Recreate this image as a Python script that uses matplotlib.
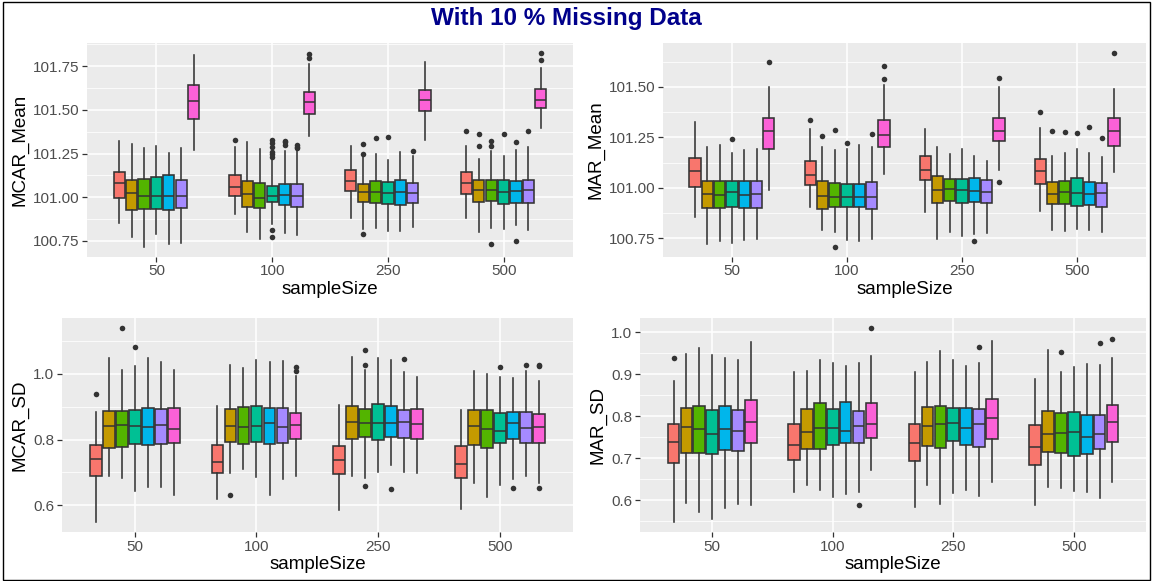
import numpy as np
import matplotlib
matplotlib.use("Agg")
import matplotlib.pyplot as plt
from matplotlib.ticker import MultipleLocator, FormatStrFormatter
from matplotlib.patches import Rectangle

plt.rcParams['font.family'] = ['Liberation Sans', 'DejaVu Sans']

sampleSizes = ['50', '100', '250', '500']
methodColors = ['#F8766D', '#C49A00', '#53B400', '#00C094', '#00B6EB', '#A58AFF', '#FB61D7']

# box stats per sample size and method: (whisker low, Q1, median, Q3, whisker high)
mcarMean = [
    [(100.855, 100.998, 101.080, 101.145, 101.322),
     (100.775, 100.928, 101.025, 101.100, 101.303),
     (100.715, 100.933, 101.010, 101.105, 101.280),
     (100.790, 100.935, 101.005, 101.115, 101.293),
     (100.735, 100.925, 101.005, 101.125, 101.253),
     (100.740, 100.940, 101.005, 101.100, 101.283),
     (101.270, 101.450, 101.550, 101.645, 101.815)],
    [(100.905, 101.010, 101.060, 101.125, 101.290),
     (100.800, 100.945, 101.020, 101.095, 101.315),
     (100.760, 100.940, 100.995, 101.080, 101.275),
     (100.846, 100.975, 101.005, 101.065, 101.215),
     (100.795, 100.955, 101.015, 101.075, 101.265),
     (100.785, 100.945, 101.010, 101.075, 101.270),
     (101.350, 101.475, 101.545, 101.600, 101.765)],
    [(100.884, 101.036, 101.091, 101.156, 101.293),
     (100.820, 100.973, 101.029, 101.076, 101.235),
     (100.827, 100.970, 101.032, 101.091, 101.246),
     (100.808, 100.962, 101.023, 101.086, 101.215),
     (100.808, 100.956, 101.029, 101.099, 101.259),
     (100.830, 100.968, 101.024, 101.080, 101.236),
     (101.326, 101.493, 101.558, 101.613, 101.775)],
    [(100.884, 101.017, 101.082, 101.143, 101.293),
     (100.804, 100.973, 101.042, 101.097, 101.221),
     (100.827, 100.979, 101.040, 101.097, 101.263),
     (100.817, 100.964, 101.029, 101.097, 101.236),
     (100.842, 100.970, 101.036, 101.093, 101.269),
     (100.813, 100.968, 101.040, 101.097, 101.288),
     (101.396, 101.509, 101.554, 101.617, 101.741)],
]
mcarMeanOut = {(1, 0): [101.33], (1, 3): [101.23, 101.245, 101.26, 101.285, 101.31, 101.33, 100.81, 100.775],
               (1, 4): [101.30, 101.315, 101.32], (1, 5): [101.28, 101.29, 101.30], (1, 6): [101.795, 101.82],
               (2, 1): [101.245, 101.307, 100.792], (2, 2): [101.34], (2, 3): [101.347], (2, 5): [101.262],
               (3, 0): [101.377], (3, 1): [101.293, 101.36], (3, 2): [101.293, 101.322, 100.731],
               (3, 3): [101.36], (3, 4): [101.314, 100.747], (3, 5): [101.381], (3, 6): [101.785, 101.827]}

marMean = [
    [(100.856, 101.002, 101.084, 101.145, 101.326),
     (100.720, 100.902, 100.970, 101.035, 101.203),
     (100.735, 100.900, 100.965, 101.035, 101.212),
     (100.726, 100.904, 100.979, 101.035, 101.172),
     (100.739, 100.901, 100.965, 101.035, 101.187),
     (100.744, 100.898, 100.969, 101.035, 101.192),
     (100.990, 101.192, 101.281, 101.345, 101.499)],
    [(100.907, 101.013, 101.064, 101.131, 101.293),
     (100.792, 100.894, 100.960, 101.031, 101.202),
     (100.780, 100.904, 100.954, 101.023, 101.187),
     (100.742, 100.904, 100.954, 101.021, 101.193),
     (100.734, 100.904, 100.954, 101.021, 101.213),
     (100.747, 100.894, 100.954, 101.028, 101.203),
     (101.068, 101.203, 101.263, 101.334, 101.511)],
    [(100.881, 101.036, 101.089, 101.159, 101.291),
     (100.745, 100.922, 100.988, 101.060, 101.204),
     (100.781, 100.934, 100.993, 101.043, 101.166),
     (100.762, 100.922, 100.987, 101.043, 101.190),
     (100.773, 100.930, 100.985, 101.046, 101.159),
     (100.776, 100.924, 100.980, 101.040, 101.132),
     (101.086, 101.233, 101.281, 101.346, 101.497)],
    [(100.884, 101.018, 101.083, 101.142, 101.295),
     (100.790, 100.917, 100.970, 101.028, 101.159),
     (100.785, 100.921, 100.977, 101.033, 101.172),
     (100.798, 100.911, 100.975, 101.046, 101.192),
     (100.791, 100.914, 100.969, 101.026, 101.171),
     (100.781, 100.906, 100.972, 101.022, 101.151),
     (101.079, 101.207, 101.283, 101.344, 101.488)],
]
marMeanOut = {(0, 3): [101.24], (0, 6): [101.622], (1, 0): [101.336], (1, 1): [101.255],
              (1, 2): [101.286, 100.706], (1, 3): [101.22], (1, 5): [101.268], (1, 6): [101.539, 101.605],
              (2, 4): [100.737], (2, 6): [101.545, 101.026], (3, 0): [101.377], (3, 1): [101.281],
              (3, 2): [101.276], (3, 3): [101.273], (3, 4): [101.303], (3, 5): [101.248], (3, 6): [101.669]}

mcarSD = [
    [(0.549, 0.690, 0.740, 0.784, 0.882),
     (0.690, 0.775, 0.842, 0.885, 1.048),
     (0.684, 0.778, 0.845, 0.885, 1.010),
     (0.645, 0.785, 0.842, 0.891, 1.022),
     (0.655, 0.782, 0.839, 0.896, 1.048),
     (0.655, 0.787, 0.845, 0.893, 1.035),
     (0.632, 0.790, 0.833, 0.895, 1.012)],
    [(0.620, 0.697, 0.731, 0.784, 0.903),
     (0.697, 0.791, 0.842, 0.892, 1.027),
     (0.712, 0.787, 0.838, 0.899, 1.017),
     (0.685, 0.792, 0.842, 0.902, 1.040),
     (0.632, 0.785, 0.850, 0.897, 1.035),
     (0.679, 0.788, 0.837, 0.896, 1.037),
     (0.689, 0.803, 0.844, 0.879, 0.992)],
    [(0.586, 0.694, 0.737, 0.781, 0.904),
     (0.689, 0.803, 0.854, 0.903, 1.050),
     (0.684, 0.807, 0.851, 0.892, 1.012),
     (0.700, 0.800, 0.850, 0.909, 1.048),
     (0.722, 0.807, 0.851, 0.903, 1.042),
     (0.703, 0.806, 0.853, 0.890, 1.005),
     (0.697, 0.803, 0.847, 0.893, 0.991)],
    [(0.588, 0.683, 0.726, 0.780, 0.891),
     (0.667, 0.782, 0.840, 0.888, 1.009),
     (0.627, 0.775, 0.831, 0.891, 0.999),
     (0.662, 0.790, 0.827, 0.879, 0.989),
     (0.680, 0.801, 0.851, 0.883, 0.986),
     (0.690, 0.789, 0.834, 0.882, 1.007),
     (0.667, 0.790, 0.839, 0.876, 0.977)],
]
mcarSDOut = {(0, 0): [0.937], (0, 2): [1.139], (0, 3): [1.080], (1, 1): [0.632], (1, 6): [1.007, 1.019],
             (2, 2): [1.070, 1.027, 0.660], (2, 4): [0.649], (2, 5): [1.044], (3, 3): [1.019],
             (3, 4): [0.654], (3, 5): [1.026], (3, 6): [1.023, 1.026, 0.653]}

marSD = [
    [(0.548, 0.688, 0.739, 0.783, 0.884),
     (0.593, 0.714, 0.775, 0.820, 0.949),
     (0.573, 0.714, 0.771, 0.825, 0.962),
     (0.555, 0.710, 0.757, 0.816, 0.946),
     (0.581, 0.721, 0.771, 0.825, 0.938),
     (0.591, 0.718, 0.766, 0.815, 0.934),
     (0.588, 0.736, 0.786, 0.840, 0.976)],
    [(0.621, 0.696, 0.732, 0.783, 0.905),
     (0.637, 0.722, 0.763, 0.818, 0.909),
     (0.625, 0.722, 0.773, 0.831, 0.935),
     (0.607, 0.732, 0.773, 0.818, 0.926),
     (0.616, 0.736, 0.765, 0.835, 0.921),
     (0.621, 0.736, 0.777, 0.813, 0.928),
     (0.672, 0.748, 0.783, 0.833, 0.943)],
    [(0.585, 0.694, 0.737, 0.781, 0.906),
     (0.637, 0.729, 0.778, 0.823, 0.930),
     (0.591, 0.724, 0.781, 0.825, 0.956),
     (0.617, 0.741, 0.784, 0.821, 0.935),
     (0.626, 0.733, 0.772, 0.821, 0.920),
     (0.611, 0.727, 0.782, 0.817, 0.926),
     (0.645, 0.747, 0.795, 0.841, 0.979)],
    [(0.589, 0.684, 0.728, 0.780, 0.890),
     (0.631, 0.715, 0.757, 0.814, 0.959),
     (0.629, 0.712, 0.760, 0.807, 0.905),
     (0.623, 0.706, 0.763, 0.811, 0.918),
     (0.619, 0.711, 0.752, 0.803, 0.924),
     (0.605, 0.723, 0.759, 0.803, 0.922),
     (0.643, 0.738, 0.786, 0.826, 0.938)],
]
marSDOut = {(0, 0): [0.938], (1, 5): [0.590], (1, 6): [1.011], (2, 5): [0.964],
            (3, 2): [0.954], (3, 5): [0.974], (3, 6): [0.985]}


def drawPanel(ax, data, outliers, ylabel, step, fmt):
    dodge = 0.107
    allVals = []
    for i in range(len(sampleSizes)):
        for j in range(len(methodColors)):
            lo, q1, med, q3, hi = data[i][j]
            fl = outliers.get((i, j), [])
            allVals += [lo, hi] + fl
            st = [dict(whislo=lo, q1=q1, med=med, q3=q3, whishi=hi, fliers=fl)]
            pos = i + 1 + (j - 3) * dodge
            ax.bxp(st, positions=[pos], widths=0.097, showcaps=False, patch_artist=True,
                   boxprops=dict(facecolor=methodColors[j], edgecolor='#333333', linewidth=1.15),
                   whiskerprops=dict(color='#333333', linewidth=1.15),
                   medianprops=dict(color='#333333', linewidth=1.1),
                   flierprops=dict(marker='o', markerfacecolor='#333333', markeredgecolor='none',
                                   markersize=4.0),
                   manage_ticks=False, zorder=3)
    # ggplot style 5% expansion
    lo, hi = min(allVals), max(allVals)
    pad = (hi - lo) * 0.05
    ax.set_ylim(lo - pad, hi + pad)
    ax.set_xlim(0.4, 4.6)
    ax.set_xticks(range(1, 5))
    ax.set_xticklabels(sampleSizes)
    ax.yaxis.set_major_locator(MultipleLocator(step))
    ax.yaxis.set_minor_locator(MultipleLocator(step / 2))
    ax.yaxis.set_major_formatter(FormatStrFormatter(fmt))
    ax.set_facecolor('#EBEBEB')
    ax.grid(True, which='major', color='white', linewidth=1.1, zorder=0)
    ax.grid(True, which='minor', axis='y', color='white', linewidth=0.55, zorder=0)
    ax.set_axisbelow(True)
    for s in ax.spines.values():
        s.set_visible(False)
    ax.tick_params(which='major', length=3.5, width=0.9, color='#333333', labelcolor='#4D4D4D',
                   labelsize=11, pad=2)
    ax.tick_params(which='minor', length=0)
    ax.set_xlabel('sampleSize', fontsize=13.5, color='black', labelpad=2)
    ax.set_ylabel(ylabel, fontsize=13.5, color='black', labelpad=3)


fig = plt.figure(figsize=(11.53, 5.81), dpi=100)
fig.patch.set_facecolor('white')

ax1 = fig.add_axes([0.0755, 0.558, 0.4215, 0.368])
ax2 = fig.add_axes([0.575, 0.558, 0.419, 0.368])
ax3 = fig.add_axes([0.0535, 0.0843, 0.4435, 0.3684])
ax4 = fig.add_axes([0.555, 0.0843, 0.439, 0.3684])

drawPanel(ax1, mcarMean, mcarMeanOut, 'MCAR_Mean', 0.25, '%.2f')
drawPanel(ax2, marMean, marMeanOut, 'MAR_Mean', 0.25, '%.2f')
drawPanel(ax3, mcarSD, mcarSDOut, 'MCAR_SD', 0.2, '%.1f')
drawPanel(ax4, marSD, marSDOut, 'MAR_SD', 0.1, '%.1f')

fig.text(0.491, 0.968, 'With 10 % Missing Data', ha='center', va='center',
         fontsize=17.5, fontweight='bold', color='#00008B')

# frame around the whole picture
fig.patches.append(Rectangle((0.003, 0.002), 0.994, 0.994, transform=fig.transFigure,
                             fill=False, edgecolor='black', linewidth=1.0))

fig.savefig('out.png', dpi=100)
